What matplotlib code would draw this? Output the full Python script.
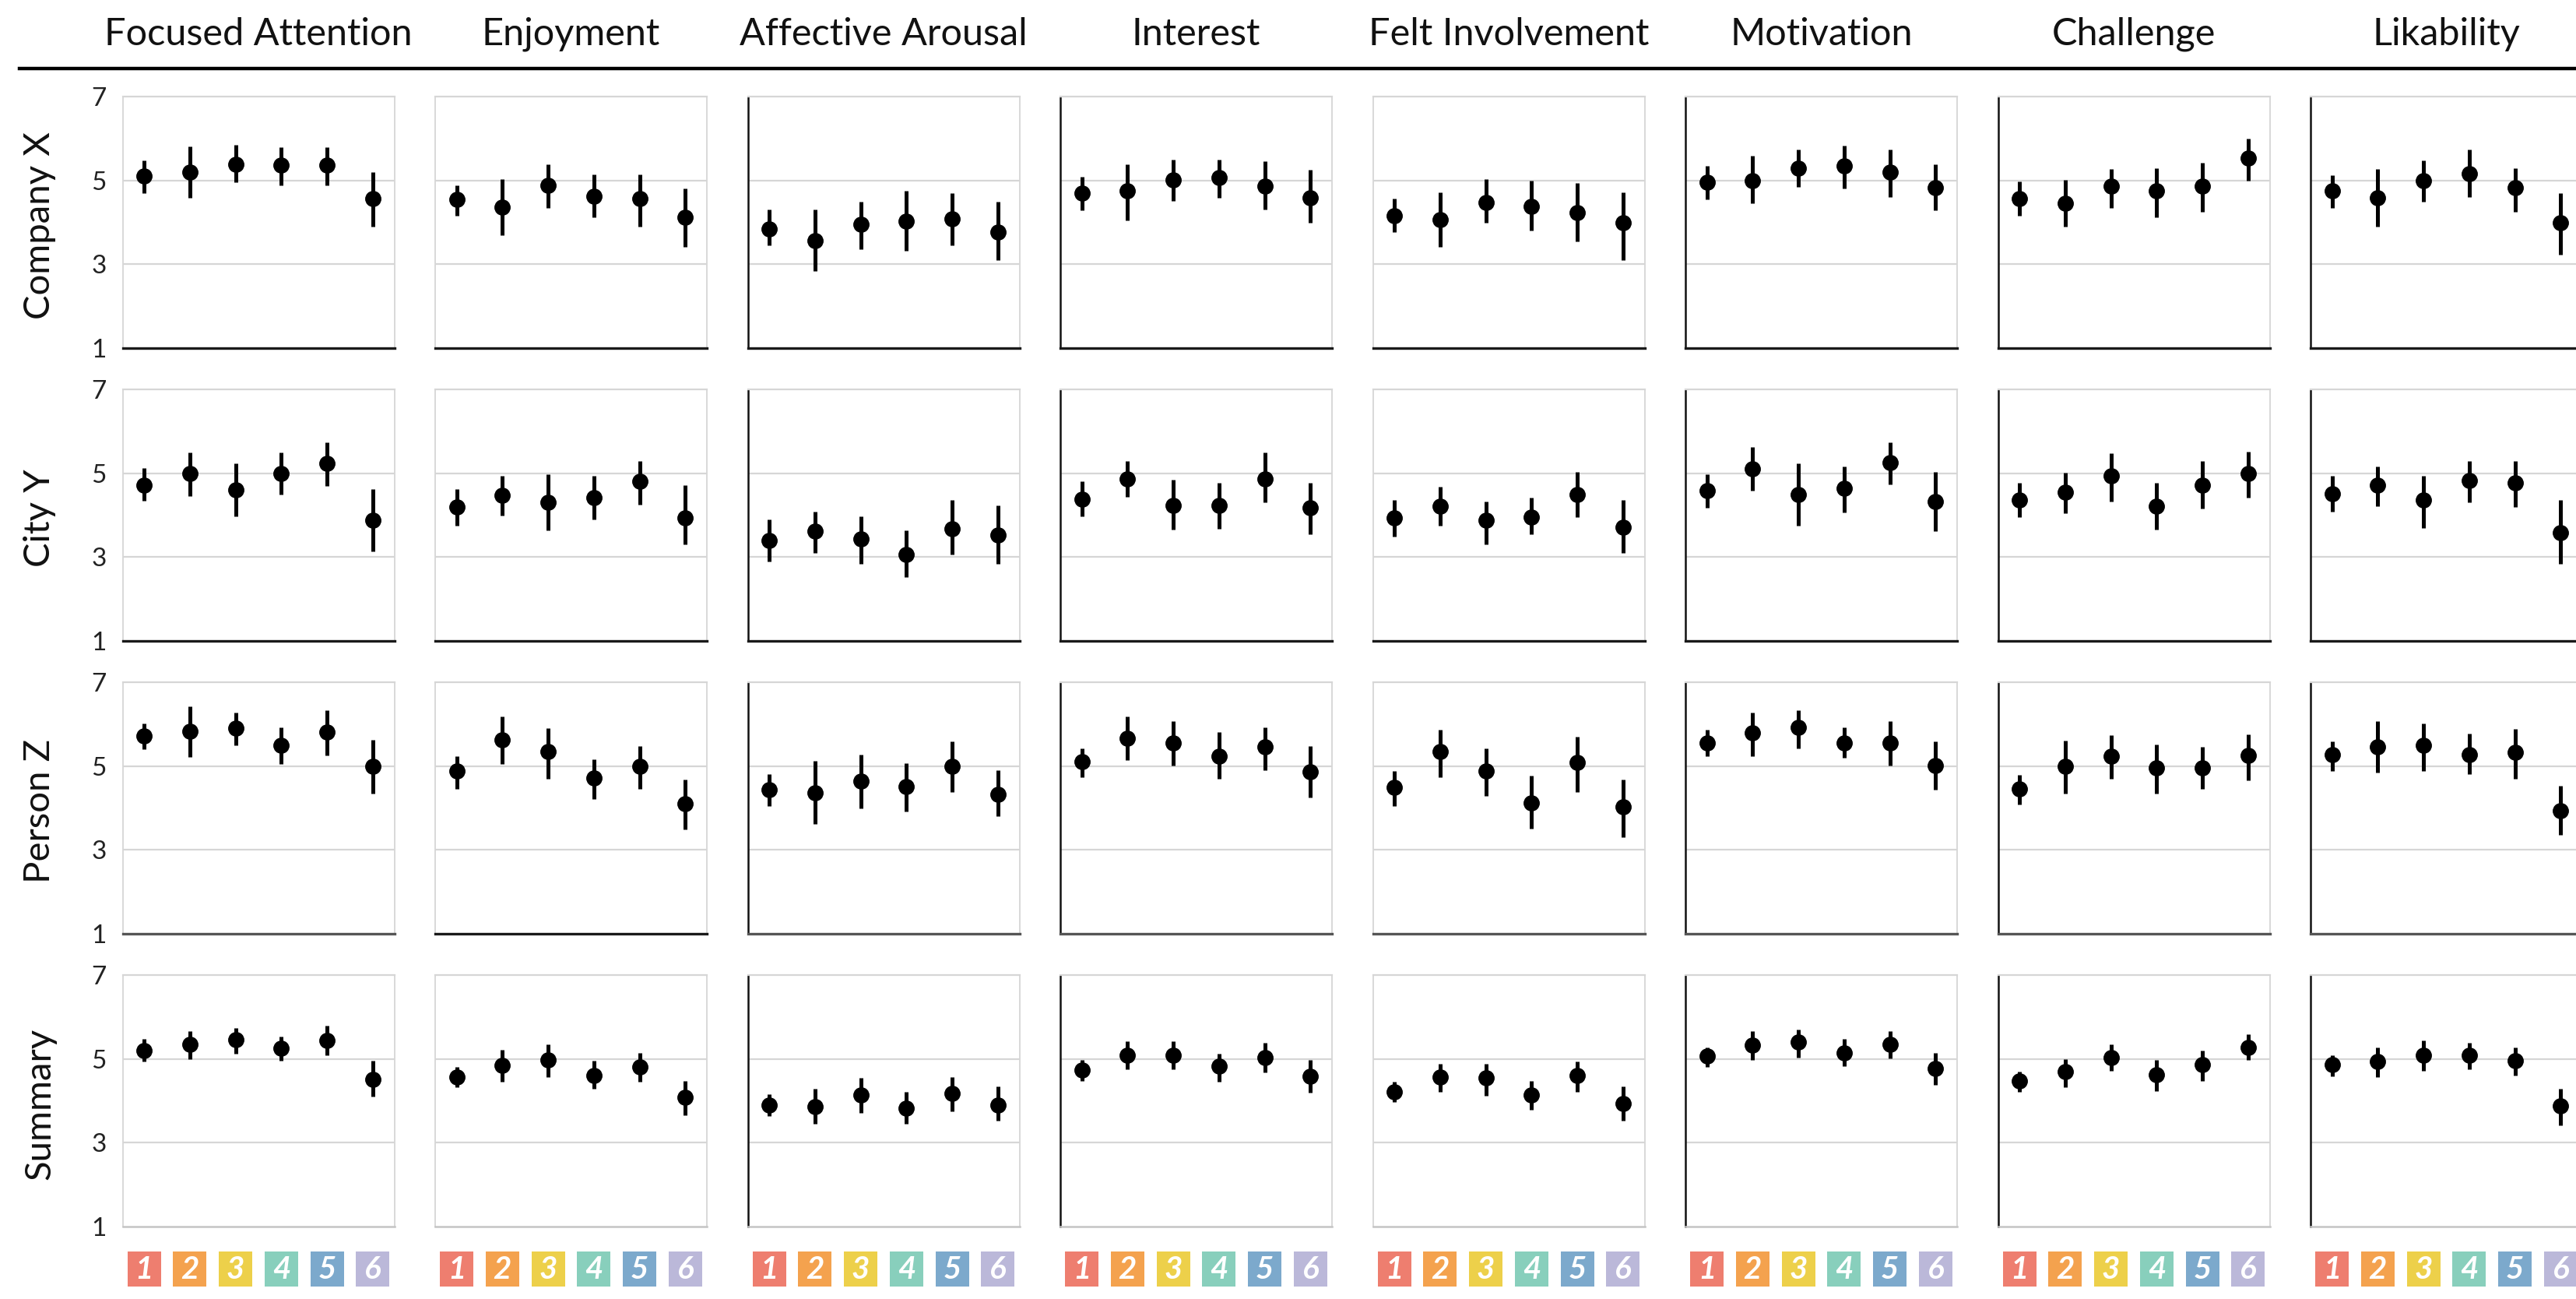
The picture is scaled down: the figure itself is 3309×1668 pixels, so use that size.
import matplotlib
matplotlib.use("Agg")
import matplotlib.pyplot as plt
from matplotlib.lines import Line2D
import numpy as np

plt.rcParams['font.family'] = ['Lato', 'DejaVu Sans']

metrics = ["Focused Attention", "Enjoyment", "Affective Arousal", "Interest",
           "Felt Involvement", "Motivation", "Challenge", "Likability"]
groups = ["Company X", "City Y", "Person Z", "Summary"]
conditions = ["1", "2", "3", "4", "5", "6"]
condition_colors = ["#EE7E6F", "#F4A24E", "#EDD04A", "#88CFBC", "#7CA9CC", "#BBB8D9"]
y_ticks = [1, 3, 5, 7]

company_x_mean = [[5.10, 5.19, 5.39, 5.37, 5.37, 4.57], [4.54, 4.37, 4.89, 4.63, 4.56, 4.12],
                  [3.84, 3.57, 3.95, 4.03, 4.08, 3.76], [4.70, 4.76, 5.02, 5.06, 4.87, 4.58],
                  [4.15, 4.06, 4.48, 4.39, 4.23, 3.99], [4.96, 5.00, 5.30, 5.35, 5.19, 4.82],
                  [4.56, 4.45, 4.87, 4.76, 4.87, 5.54], [4.76, 4.58, 4.99, 5.17, 4.82, 3.99]]
company_x_hi = [[5.48, 5.82, 5.84, 5.79, 5.80, 5.19], [4.89, 5.03, 5.38, 5.15, 5.15, 4.80],
                [4.30, 4.30, 4.50, 4.76, 4.70, 4.50], [5.09, 5.38, 5.50, 5.50, 5.45, 5.25],
                [4.56, 4.71, 5.03, 5.00, 4.93, 4.71], [5.35, 5.58, 5.73, 5.83, 5.73, 5.38],
                [4.97, 5.02, 5.28, 5.30, 5.43, 5.99], [5.12, 5.28, 5.48, 5.73, 5.30, 4.69]]
company_x_lo = [[4.70, 4.58, 4.95, 4.88, 4.88, 3.89], [4.15, 3.70, 4.34, 4.12, 3.89, 3.41],
                [3.45, 2.83, 3.35, 3.32, 3.45, 3.09], [4.28, 4.04, 4.51, 4.58, 4.30, 3.99],
                [3.76, 3.41, 3.99, 3.80, 3.54, 3.10], [4.54, 4.45, 4.84, 4.80, 4.60, 4.28],
                [4.15, 3.89, 4.34, 4.13, 4.25, 5.00], [4.35, 3.89, 4.50, 4.60, 4.26, 3.23]]

city_y_mean = [[4.72, 5.00, 4.61, 5.00, 5.24, 3.87], [4.20, 4.48, 4.30, 4.42, 4.81, 3.94],
               [3.39, 3.61, 3.43, 3.07, 3.68, 3.52], [4.39, 4.87, 4.23, 4.24, 4.87, 4.17],
               [3.94, 4.22, 3.87, 3.96, 4.50, 3.72], [4.59, 5.11, 4.50, 4.65, 5.26, 4.33],
               [4.37, 4.55, 4.93, 4.22, 4.72, 5.00], [4.52, 4.72, 4.37, 4.83, 4.77, 3.59]]
city_y_hi = [[5.13, 5.50, 5.23, 5.50, 5.74, 4.63], [4.63, 4.93, 4.97, 4.93, 5.29, 4.71],
             [3.89, 4.09, 3.98, 3.63, 4.37, 4.23], [4.80, 5.30, 4.84, 4.78, 5.50, 4.78],
             [4.37, 4.68, 4.32, 4.42, 5.03, 4.37], [4.98, 5.63, 5.23, 5.17, 5.74, 5.03],
             [4.78, 5.02, 5.48, 4.77, 5.29, 5.52], [4.93, 5.17, 4.93, 5.30, 5.29, 4.37]]
city_y_lo = [[4.35, 4.45, 3.98, 4.50, 4.70, 3.13], [3.74, 4.00, 3.63, 3.89, 4.26, 3.30],
             [2.90, 3.10, 2.84, 2.52, 3.06, 2.84], [3.98, 4.43, 3.65, 3.68, 4.30, 3.55],
             [3.48, 3.74, 3.30, 3.55, 3.96, 3.09], [4.17, 4.59, 3.74, 4.07, 4.74, 3.61],
             [3.96, 4.04, 4.33, 3.65, 4.16, 4.41], [4.09, 4.22, 3.70, 4.30, 4.20, 2.84]]

person_z_mean = [[5.71, 5.83, 5.90, 5.49, 5.81, 4.99], [4.89, 5.63, 5.34, 4.71, 4.99, 4.11],
                 [4.44, 4.36, 4.64, 4.51, 4.99, 4.33], [5.10, 5.67, 5.56, 5.24, 5.45, 4.86],
                 [4.49, 5.34, 4.89, 4.13, 5.08, 4.02], [5.56, 5.80, 5.92, 5.55, 5.56, 5.02],
                 [4.46, 4.99, 5.24, 4.96, 4.95, 5.26], [5.27, 5.46, 5.50, 5.28, 5.32, 3.93]]
person_z_hi = [[6.02, 6.42, 6.27, 5.92, 6.33, 5.63], [5.24, 6.18, 5.90, 5.17, 5.48, 4.68],
               [4.81, 5.12, 5.27, 5.06, 5.58, 4.90], [5.43, 6.18, 6.07, 5.81, 5.93, 5.48],
               [4.89, 5.87, 5.43, 4.77, 5.70, 4.68], [5.87, 6.27, 6.34, 5.92, 6.07, 5.58],
               [4.79, 5.61, 5.74, 5.52, 5.45, 5.76], [5.58, 6.07, 6.02, 5.77, 5.89, 4.53]]
person_z_lo = [[5.41, 5.21, 5.49, 5.05, 5.26, 4.35], [4.46, 5.05, 4.70, 4.22, 4.46, 3.49],
               [4.05, 3.61, 4.00, 3.91, 4.39, 3.80], [4.73, 5.14, 5.02, 4.70, 4.90, 4.26],
               [4.05, 4.74, 4.29, 3.51, 4.39, 3.30], [5.24, 5.24, 5.43, 5.19, 5.02, 4.44],
               [4.09, 4.35, 4.70, 4.35, 4.46, 4.66], [4.89, 4.84, 4.89, 4.80, 4.70, 3.36]]

summary_mean = [[5.19, 5.34, 5.45, 5.26, 5.44, 4.52], [4.56, 4.84, 4.97, 4.61, 4.80, 4.08],
                [3.90, 3.86, 4.14, 3.82, 4.17, 3.90], [4.74, 5.09, 5.09, 4.82, 5.04, 4.58],
                [4.21, 4.56, 4.55, 4.14, 4.60, 3.94], [5.06, 5.32, 5.41, 5.15, 5.34, 4.77],
                [4.48, 4.69, 5.03, 4.62, 4.86, 5.28], [4.87, 4.93, 5.09, 5.08, 4.95, 3.88]]
summary_hi = [[5.47, 5.67, 5.73, 5.54, 5.79, 4.95], [4.80, 5.21, 5.34, 4.95, 5.15, 4.48],
              [4.16, 4.29, 4.54, 4.21, 4.56, 4.34], [4.97, 5.43, 5.43, 5.13, 5.38, 4.97],
              [4.45, 4.89, 4.89, 4.48, 4.93, 4.34], [5.28, 5.67, 5.70, 5.47, 5.67, 5.15],
              [4.69, 4.99, 5.34, 4.97, 5.19, 5.59], [5.09, 5.28, 5.44, 5.38, 5.28, 4.29]]
summary_lo = [[4.93, 5.00, 5.13, 4.95, 5.09, 4.10], [4.32, 4.45, 4.56, 4.28, 4.45, 3.66],
              [3.64, 3.45, 3.72, 3.45, 3.75, 3.52], [4.48, 4.76, 4.76, 4.45, 4.67, 4.19],
              [3.97, 4.21, 4.13, 3.79, 4.21, 3.53], [4.80, 4.97, 5.04, 4.83, 5.02, 4.38],
              [4.21, 4.32, 4.71, 4.23, 4.48, 4.97], [4.58, 4.56, 4.71, 4.76, 4.60, 3.42]]

means = [company_x_mean, city_y_mean, person_z_mean, summary_mean]
his = [company_x_hi, city_y_hi, person_z_hi, summary_hi]
los = [company_x_lo, city_y_lo, person_z_lo, summary_lo]

W, H = 3309, 1668
fig = plt.figure(figsize=(W / 100, H / 100), dpi=100)
fig.patch.set_facecolor("white")

def rect(x0, top, w, h):
    return [x0 / W, 1 - (top + h) / H, w / W, h / H]

col_left0, col_pitch, col_w = 157.5, 401.5, 349
row_top0, row_pitch, row_h = 124, 376, 323
xlim = (0.53, 6.47)
xs = np.arange(1, 7)

light = "#d6d6d6"
left_dark_cols = {2, 3, 5, 6, 7}
bottom_colors = ["#1a1a1a", "#1a1a1a", "#555555", "#c4c4c4"]

for r in range(4):
    for c in range(8):
        x0 = col_left0 + col_pitch * c
        top = row_top0 + row_pitch * r
        ax = fig.add_axes(rect(x0, top, col_w, row_h))
        ax.set_xlim(*xlim)
        ax.set_ylim(1, 7)
        for yv in (3, 5):
            ax.axhline(yv, color=light, lw=1.6, zorder=0)
        ax.spines['top'].set_color(light)
        ax.spines['top'].set_linewidth(1.6)
        ax.spines['right'].set_color(light)
        ax.spines['right'].set_linewidth(1.3)
        if c in left_dark_cols:
            ax.spines['left'].set_color("#111111")
            ax.spines['left'].set_linewidth(1.8)
        else:
            ax.spines['left'].set_color(light)
            ax.spines['left'].set_linewidth(1.3)
        bc = bottom_colors[r]
        if r == 2 and c == 1:
            bc = "#1a1a1a"
        ax.spines['bottom'].set_color(bc)
        ax.spines['bottom'].set_linewidth(2.4 if r < 3 else 1.8)
        ax.set_xticks([])
        ax.set_yticks(y_ticks)
        ax.tick_params(axis='y', length=0, pad=15, labelsize=24, labelcolor="#222222")
        if c != 0:
            ax.tick_params(axis='y', labelleft=False)
        m = np.array(means[r][c])
        lo = np.array(los[r][c])
        hi = np.array(his[r][c])
        ax.errorbar(xs, m, yerr=[m - lo, hi - m], fmt='o', color='black',
                    ms=14, elinewidth=3.6, capsize=0, zorder=3)
        if r == 0:
            fig.text((x0 + col_w / 2) / W, 1 - 44 / H, metrics[c], ha='center',
                     va='center', fontsize=35, color="#111111")
        if r == 3:
            bax = fig.add_axes(rect(x0, 1607, col_w, 45))
            bax.set_xlim(*xlim)
            bax.set_ylim(0, 1)
            bax.axis('off')
            bax.bar(xs, [1] * 6, width=0.73, bottom=0, color=condition_colors)
            for xi, lab in zip(xs, conditions):
                bax.text(xi, 0.47, lab, ha='center', va='center', color='white',
                         fontsize=29, fontstyle='italic', fontweight='bold')
    fig.text(51 / W, 1 - (row_top0 + row_pitch * r + row_h / 2 + 4) / H, groups[r],
             rotation=90, ha='center', va='center', fontsize=34, color="#111111")

fig.add_artist(Line2D([25 / W, 1.0], [1 - 88 / H, 1 - 88 / H], color='black', lw=3.2))

fig.savefig("out.png", dpi=100, facecolor="white")
